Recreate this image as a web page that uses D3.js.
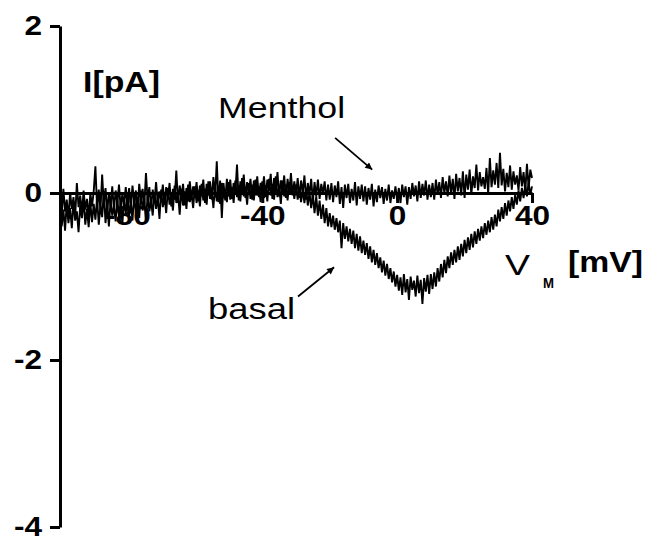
<!DOCTYPE html>
<html>
<head>
<meta charset="utf-8">
<script src="https://cdn.jsdelivr.net/npm/d3@7"></script>
<style>
  html, body { margin: 0; padding: 0; background: #fff; }
  svg { display: block; }
</style>
</head>
<body>
<svg id="chart" width="650" height="541"></svg>
<script>
// Voltage ramp: one current sample every 0.5 mV from -100 mV to +40 mV
const rampStart = -100;
const rampStep = 0.5;

// Whole-cell current (pA) without agonist, one row per 10 mV of the ramp
const basalCurrent = [
  -0.16, -0.40, -0.20, -0.45, -0.12, -0.36, -0.18, -0.42, -0.10, -0.33, -0.22, -0.47, -0.14, -0.30, -0.08, -0.38, -0.19, -0.41, -0.11, -0.35,
  -0.13, -0.32, -0.06, -0.38, -0.15, -0.29, 0.02, -0.36, -0.12, -0.40, -0.09, -0.27, -0.16, -0.34, -0.05, -0.30, -0.10, -0.37, -0.07, -0.25,
  -0.04, -0.28, -0.11, -0.33, -0.02, -0.24, -0.08, -0.30, 0.03, -0.21, -0.06, -0.35, -0.01, -0.22, -0.09, -0.27, 0.01, -0.19, -0.05, -0.31,
  0.04, -0.17, -0.03, -0.24, 0.06, -0.14, -0.02, -0.21, 0.09, -0.12, 0.00, -0.26, 0.05, -0.15, 0.02, -0.19, 0.10, -0.11, -0.01, -0.18,
  0.08, -0.12, 0.03, -0.16, 0.11, -0.09, 0.05, -0.14, 0.14, -0.07, 0.02, -0.18, 0.09, -0.10, 0.06, -0.13, 0.12, -0.06, 0.04, -0.11,
  0.13, -0.08, 0.07, -0.12, 0.15, -0.05, 0.09, -0.10, 0.18, -0.04, 0.06, -0.14, 0.12, -0.07, 0.10, -0.09, 0.16, -0.03, 0.08, -0.11,
  0.14, -0.06, 0.09, -0.10, 0.17, -0.03, 0.11, -0.08, 0.20, -0.05, 0.07, -0.13, 0.15, -0.04, 0.10, -0.09, 0.13, -0.02, 0.08, -0.07,
  0.10, -0.08, 0.07, -0.11, 0.04, -0.12, 0.06, -0.15, 0.01, -0.18, -0.02, -0.24, -0.04, -0.27, -0.09, -0.31, -0.14, -0.36, -0.18, -0.40,
  -0.24, -0.41, -0.27, -0.44, -0.30, -0.47, -0.33, -0.66, -0.36, -0.55, -0.40, -0.58, -0.43, -0.61, -0.45, -0.66, -0.49, -0.69, -0.52, -0.72,
  -0.57, -0.74, -0.60, -0.79, -0.64, -0.83, -0.68, -0.86, -0.72, -0.90, -0.77, -0.95, -0.81, -0.99, -0.85, -1.03, -0.90, -1.07, -0.94, -1.12,
  -0.98, -1.17, -1.01, -1.22, -0.97, -1.19, -1.03, -1.28, -1.00, -1.16, -1.05, -1.24, -0.99, -1.20, -1.04, -1.33, -1.02, -1.18, -0.98, -1.21,
  -0.97, -1.15, -0.95, -1.12, -0.90, -1.06, -0.85, -1.01, -0.80, -0.96, -0.76, -0.90, -0.71, -0.86, -0.68, -0.83, -0.64, -0.80, -0.61, -0.76,
  -0.56, -0.72, -0.53, -0.68, -0.49, -0.65, -0.46, -0.61, -0.43, -0.57, -0.40, -0.54, -0.36, -0.50, -0.33, -0.47, -0.29, -0.44, -0.26, -0.40,
  -0.20, -0.34, -0.17, -0.31, -0.12, -0.27, -0.09, -0.22, -0.05, -0.19, -0.02, -0.14, 0.03, -0.10, 0.06, -0.06, 0.09, -0.04, 0.12, -0.02,
  0.08
];

// Whole-cell current (pA) with menthol, same ramp
const mentholCurrent = [
  -0.02, -0.26, 0.05, -0.22, -0.08, -0.31, 0.01, -0.19, -0.05, -0.28, 0.12, -0.17, -0.03, -0.24, 0.03, -0.20, -0.07, -0.29, 0.00, -0.16,
  0.02, 0.32, -0.18, 0.04, -0.21, 0.22, -0.14, 0.06, -0.23, 0.01, -0.16, 0.08, -0.20, 0.03, -0.12, 0.10, -0.19, 0.00, -0.15, 0.07,
  -0.14, 0.06, -0.17, 0.09, -0.12, 0.03, -0.20, 0.11, -0.10, 0.05, -0.15, 0.24, -0.09, 0.07, -0.18, 0.04, -0.11, 0.13, -0.13, 0.02,
  -0.09, 0.10, -0.14, 0.07, -0.06, 0.12, -0.16, 0.05, -0.08, 0.27, -0.12, 0.09, -0.05, 0.11, -0.15, 0.06, -0.10, 0.14, -0.07, 0.08,
  -0.06, 0.13, -0.10, 0.09, -0.04, 0.16, -0.12, 0.11, -0.03, 0.14, -0.08, 0.19, -0.05, 0.38, -0.11, 0.15, -0.30, 0.12, -0.09, 0.17,
  -0.04, 0.16, -0.07, 0.12, 0.00, 0.34, -0.09, 0.14, -0.02, 0.22, -0.06, 0.13, 0.01, 0.17, -0.08, 0.15, -0.03, 0.20, -0.05, 0.12,
  -0.02, 0.20, -0.05, 0.16, 0.03, 0.23, -0.07, 0.18, 0.01, 0.25, -0.04, 0.15, 0.02, 0.21, -0.06, 0.17, 0.00, 0.24, -0.03, 0.14,
  -0.03, 0.18, -0.06, 0.15, 0.00, 0.21, -0.08, 0.12, -0.02, 0.17, -0.10, 0.13, -0.04, 0.16, -0.07, 0.11, -0.01, 0.14, -0.09, 0.10,
  -0.08, 0.12, -0.11, 0.09, -0.05, 0.14, -0.13, 0.07, -0.18, 0.10, -0.06, 0.11, -0.12, 0.05, -0.09, 0.13, -0.15, 0.08, -0.07, 0.10,
  -0.10, 0.08, -0.14, 0.06, -0.08, 0.11, -0.16, 0.04, -0.11, 0.09, -0.06, 0.07, -0.13, 0.05, -0.09, 0.10, -0.12, 0.03, -0.07, 0.08,
  -0.09, 0.06, -0.12, 0.10, -0.05, 0.08, -0.14, 0.07, -0.07, 0.12, -0.04, 0.09, -0.10, 0.14, -0.06, 0.11, -0.03, 0.15, -0.08, 0.10,
  -0.05, 0.12, -0.08, 0.16, -0.02, 0.13, -0.06, 0.19, 0.00, 0.14, -0.04, 0.21, -0.01, 0.17, -0.07, 0.23, 0.02, 0.18, -0.03, 0.26,
  -0.06, 0.22, 0.04, 0.28, -0.02, 0.20, 0.06, 0.34, 0.03, 0.25, 0.08, 0.19, 0.05, 0.30, -0.01, 0.42, 0.07, 0.27, 0.10, 0.36,
  0.06, 0.48, 0.09, 0.29, 0.02, 0.24, 0.07, 0.33, 0.04, 0.26, 0.10, 0.21, 0.03, 0.31, 0.08, 0.25, 0.01, 0.35, 0.06, 0.28,
  0.18
];

const xTickValues = [-80, -40, 0, 40];
const yTickValues = [2, 0, -2, -4];

// Trace names with the arrow pointing at each trace (mV, pA)
const traceNotes = [
  { text: "Menthol", at: [-53.1, 0.90], width: 127, arrowFrom: [-18.4, 0.66], arrowTo: [-7.4, 0.28] },
  { text: "basal",   at: [-56.1, -1.51], width: 87, arrowFrom: [-29.4, -1.24], arrowTo: [-18.7, -0.89] }
];

const FONT = "Arial, 'Liberation Sans', Helvetica, sans-serif";

const svg = d3.select("#chart");

const x = d3.scaleLinear().domain([-100, 40]).range([60, 532]);
const y = d3.scaleLinear().domain([-4, 2]).range([527, 26]);

// Horizontal stretch of text, the lettering in this figure is slightly wide
function widen(sel, k) {
  sel.each(function () {
    const w = this.getComputedTextLength();
    d3.select(this).attr("textLength", w * k).attr("lengthAdjust", "spacingAndGlyphs");
  });
}

// Current traces
const line = d3.line()
  .x((d, i) => x(rampStart + i * rampStep))
  .y(d => y(d));

svg.append("g")
  .selectAll("path")
  .data([mentholCurrent, basalCurrent])
  .join("path")
  .attr("d", line)
  .attr("fill", "none")
  .attr("stroke", "#000")
  .attr("stroke-width", 1.9)
  .attr("stroke-linejoin", "bevel");

// Y axis
const yAxis = svg.append("g")
  .attr("transform", `translate(${x(-100)},0)`)
  .call(d3.axisLeft(y).tickValues(yTickValues).tickSize(10).tickSizeOuter(0)
    .tickPadding(8).tickFormat(d => String(d)));

// X axis through zero current
const xAxis = svg.append("g")
  .attr("transform", `translate(0,${y(0)})`)
  .call(d3.axisBottom(x).tickValues(xTickValues).tickSize(10).tickSizeOuter(0)
    .tickPadding(3).tickFormat(d => String(d)));

[xAxis, yAxis].forEach(g => {
  g.select(".domain").attr("stroke", "#000").attr("stroke-width", 3);
  g.selectAll(".tick line").attr("stroke", "#000").attr("stroke-width", 3);
  g.selectAll(".tick text")
    .attr("fill", "#000")
    .style("font-family", FONT)
    .style("font-size", "27px")
    .style("font-weight", "bold")
    .call(widen, 1.17);
});

// Axis titles
svg.append("text")
  .attr("x", 83).attr("y", 92)
  .style("font-family", FONT).style("font-size", "30px").style("font-weight", "bold")
  .attr("textLength", 77).attr("lengthAdjust", "spacingAndGlyphs")
  .text("I[pA]");

const vm = svg.append("g").style("font-family", FONT);
vm.append("text")
  .attr("x", 505).attr("y", 275)
  .style("font-size", "30px")
  .attr("textLength", 25).attr("lengthAdjust", "spacingAndGlyphs")
  .text("V");
vm.append("text")
  .attr("x", 543).attr("y", 288)
  .style("font-size", "15px").style("font-weight", "bold")
  .attr("textLength", 11).attr("lengthAdjust", "spacingAndGlyphs")
  .text("M");
vm.append("text")
  .attr("x", 568).attr("y", 272)
  .style("font-size", "29px").style("font-weight", "bold")
  .attr("textLength", 75).attr("lengthAdjust", "spacingAndGlyphs")
  .text("[mV]");

// Arrowhead
svg.append("defs").append("marker")
  .attr("id", "head")
  .attr("viewBox", "0 0 10 10")
  .attr("refX", 10).attr("refY", 5)
  .attr("markerWidth", 9).attr("markerHeight", 7)
  .attr("markerUnits", "userSpaceOnUse")
  .attr("orient", "auto")
  .append("path")
  .attr("d", "M0,0L10,5L0,10Z")
  .attr("fill", "#000");

const notes = svg.append("g");
notes.selectAll("line")
  .data(traceNotes)
  .join("line")
  .attr("x1", d => x(d.arrowFrom[0])).attr("y1", d => y(d.arrowFrom[1]))
  .attr("x2", d => x(d.arrowTo[0])).attr("y2", d => y(d.arrowTo[1]))
  .attr("stroke", "#000").attr("stroke-width", 1.8)
  .attr("marker-end", "url(#head)");

notes.selectAll("text")
  .data(traceNotes)
  .join("text")
  .attr("x", d => x(d.at[0])).attr("y", d => y(d.at[1]))
  .style("font-family", FONT).style("font-size", "30px")
  .attr("textLength", d => d.width).attr("lengthAdjust", "spacingAndGlyphs")
  .text(d => d.text);
</script>
</body>
</html>
